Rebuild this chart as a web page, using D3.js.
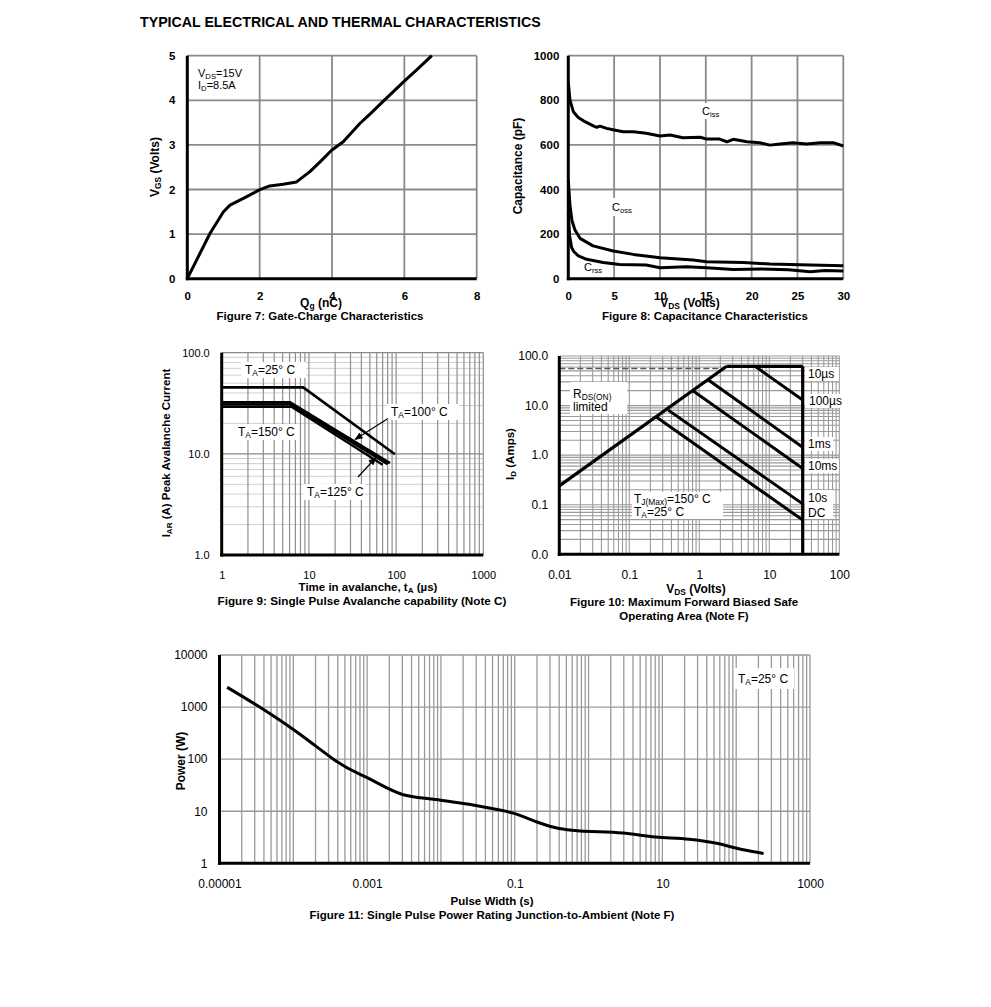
<!DOCTYPE html>
<html><head><meta charset="utf-8">
<script src="https://cdn.jsdelivr.net/npm/d3@7"></script>
<style>body{margin:0;background:#fff}svg{display:block}</style>
</head><body><svg id="c" width="991" height="1007"></svg>
<script>
// ---------------- DATA ----------------
const pageTitle = "TYPICAL ELECTRICAL AND THERMAL CHARACTERISTICS";

// Figure 7: Gate charge
const fig7Qg  = [0,0.63,1.0,1.18,1.55,1.99,2.28,2.65,3.02,3.39,3.67,3.99,4.31,4.77,5.05,5.42,6.0,6.34,6.76];
const fig7Vgs = [0,1.02,1.5,1.65,1.8,1.99,2.08,2.12,2.17,2.4,2.62,2.88,3.07,3.48,3.69,3.98,4.43,4.68,5.0];
const fig7XTicks = [0,2,4,6,8];
const fig7YTicks = [0,1,2,3,4,5];

// Figure 8: Capacitance
const cissV = [0,0.18,0.55,1.09,1.82,2.73,3.1,3.45,4.18,5,6,7.1,8.5,10,11.1,12.5,14.4,15.1,16.5,17.3,18,19.5,20.9,22,23.1,24.5,26,27.5,28.9,30];
const cissC = [883,801,749,723,704,685,679,684,674,667,659,659,652,640,644,632,634,626,626,614,625,614,610,599,604,610,604,610,610,595];
const cossV = [0,0.18,0.4,0.73,1.28,2.7,4.9,7.1,10,13.6,15.1,19.1,22,25.3,30];
const cossC = [442,330,260,218,181,147,124,109,94,84,76,73,66,62,58];
const crssV = [0,0.15,0.36,0.6,1.1,2,3.8,5.6,8.5,10,12.9,15.1,18,21,24,26.4,28,30];
const crssC = [293,190,140,122,102,87,73,64,61,49,54,49,41,44,40,31,37,34];
const fig8XTicks = [0,5,10,15,20,25,30];
const fig8YTicks = [0,200,400,600,800,1000];

// Figure 9: Avalanche
const ta25T  = [1,8.6,97],  ta25I  = [45.4,45.4,9.9];
const ta100T = [1,6.1,85],  ta100I = [32.3,32.3,8.1];
const ta125T = [1,6.1,80],  ta125I = [30.8,30.8,7.9];
const ta150T = [1,6.3,70],  ta150I = [29.2,29.2,7.8];
const fig9XTicks = [1,10,100,1000];
const fig9YTicks = [1,10,100];

// Figure 10: SOA
const rdsV = [0.01,2.46], rdsI = [0.24,62];
const topV = [2.46,30],  topI = [62,62];
const vmaxV = [30,30],   vmaxI = [62,0.01];
const dashV = [0.01,2.2], dashI = [56,56];
const soa10usV = [6.25,30],  soa10usI = [62,13];
const soa100usV = [1.35,30], soa100usI = [32.8,1.44];
const soa1msV = [0.81,30],   soa1msI = [20,0.54];
const soa10msV = [0.36,30],  soa10msI = [8.1,0.104];
const soaDCV = [0.246,30],   soaDCI = [5.8,0.049];
const fig10XTicks = [0.01,0.1,1,10,100];
const fig10YTicks = [0.01,0.1,1,10,100];

// Figure 11: Single pulse power
const pwT = [1.27e-5,3.5e-5,1e-4,2e-4,3.5e-4,5e-4,0.001,0.003,0.0085,0.024,0.045,0.1,0.2,0.36,0.6,2.9,8.1,23,52,120,235];
const pwP = [2400,1000,370,180,100,72,44,21,16.8,13.6,11.5,9.0,6.2,4.8,4.3,3.8,3.2,2.9,2.45,1.84,1.54];
const fig11XTicks = [0.00001,0.001,0.1,10,1000];
const fig11YTicks = [1,10,100,1000,10000];

// ---------------- DRAWING ----------------
const FONT = '"Liberation Sans", Arial, Helvetica, sans-serif';
const svg = d3.select('#c');

function rich(parent, x, y, parts, o = {}) {
  const size = o.size || 11;
  const t = parent.append('text').attr('x', x).attr('y', y)
    .attr('font-family', FONT).attr('font-size', size)
    .attr('font-weight', o.bold ? 'bold' : null)
    .attr('text-anchor', o.anchor || 'start').attr('fill', '#000');
  if (o.rotate) t.attr('transform', `rotate(-90,${x},${y})`);
  let off = 0;
  parts.forEach(p => {
    const isSub = Array.isArray(p);
    const txt = isSub ? p[0] : p;
    const target = isSub ? size * 0.2 : 0;
    t.append('tspan').attr('dy', target - off).attr('font-size', isSub ? size * 0.7 : size).text(txt);
    off = target;
  });
  return t;
}
function box(g, x0, y0, x1, y1) {
  g.append('rect').attr('x', x0).attr('y', y0).attr('width', x1 - x0).attr('height', y1 - y0).attr('fill', '#fff');
}
function logGrid(lo, hi) {
  const out = [];
  const e0 = Math.round(Math.log10(lo)), e1 = Math.round(Math.log10(hi));
  for (let e = e0; e < e1; e++) for (let m = 1; m < 10; m++) out.push(m * Math.pow(10, e));
  out.push(hi);
  return out;
}

function panel(c) {
  const g = svg.append('g');
  const x = (c.xlog ? d3.scaleLog() : d3.scaleLinear()).domain(c.xd).range([c.L, c.R]);
  const y = (c.ylog ? d3.scaleLog() : d3.scaleLinear()).domain(c.yd).range([c.B, c.T]);
  const grid = g.append('g');
  c.hgrid.forEach(gr => gr.vals.forEach(v => grid.append('line')
      .attr('x1', c.L).attr('x2', c.R).attr('y1', y(v)).attr('y2', y(v))
      .attr('stroke', gr.col).attr('stroke-width', gr.w)));
  c.vgrid.forEach(gr => gr.vals.forEach(v => grid.append('line')
      .attr('x1', x(v)).attr('x2', x(v)).attr('y1', c.B).attr('y2', c.T)
      .attr('stroke', gr.col).attr('stroke-width', gr.w)));
  const p = { g, x, y, c };
  p.line = (xs, ys, w) => g.append('path').datum(d3.zip(xs, ys))
      .attr('d', d3.line().x(d => x(d[0])).y(d => y(d[1])).curve(c.curve || d3.curveLinear))
      .attr('fill', 'none').attr('stroke', '#000').attr('stroke-width', w)
      .attr('stroke-linejoin', 'round').attr('stroke-linecap', 'butt');
  p.axes = () => {
    const ax = g.append('g').attr('transform', `translate(0,${c.B})`)
      .call(d3.axisBottom(x).tickValues(c.xt).tickFormat(c.xf).tickSize(0).tickPadding(c.xpad));
    ax.select('.domain').remove();
    ax.attr('font-family', FONT).attr('font-size', c.fs).attr('font-weight', c.fw || null);
    const ay = g.append('g').attr('transform', `translate(${c.L},0)`)
      .call(d3.axisLeft(y).tickValues(c.yt).tickFormat(c.yf).tickSize(0).tickPadding(c.ypad));
    ay.select('.domain').remove();
    ay.attr('font-family', FONT).attr('font-size', c.fs).attr('font-weight', c.fw || null);
    g.append('line').attr('x1', c.L).attr('x2', c.L).attr('y1', c.T).attr('y2', c.B + 1.5).attr('stroke', '#000').attr('stroke-width', 3);
    g.append('line').attr('x1', c.L - 1.5).attr('x2', c.R).attr('y1', c.B).attr('y2', c.B).attr('stroke', '#000').attr('stroke-width', 3);
  };
  return p;
}

// Title
svg.append('text').attr('x', 140).attr('y', 27).attr('font-family', FONT).attr('font-size', 14.2)
  .attr('font-weight', 'bold').text(pageTitle);

// ===== Figure 7 =====
{
  const c = { L: 187.3, R: 476.7, T: 55.7, B: 278.7, xd: [0, 8], yd: [0, 5],
    hgrid: [{ vals: fig7YTicks.slice(1), col: '#8a8a8a', w: 1.8 }],
    vgrid: [{ vals: fig7XTicks.slice(1), col: '#8a8a8a', w: 1.8 }],
    xt: fig7XTicks, yt: fig7YTicks, xf: d3.format('d'), yf: d3.format('d'),
    xpad: 13, ypad: 12, fs: 11.5, fw: 'bold' };
  const p = panel(c);
  p.line(fig7Qg, fig7Vgs, 3);
  rich(p.g, 198, 77, ['V', ['DS'], '=15V'], { size: 11 });
  rich(p.g, 198, 89, ['I', ['D'], '=8.5A'], { size: 11 });
  p.axes();
  rich(p.g, 321, 307, ['Q', ['g'], ' (nC)'], { size: 12, bold: true, anchor: 'middle' });
  rich(p.g, 320, 320, ['Figure 7: Gate-Charge Characteristics'], { size: 11.5, bold: true, anchor: 'middle' });
  rich(p.g, 159, 167, ['V', ['GS'], ' (Volts)'], { size: 12, bold: true, anchor: 'middle', rotate: true });
}

// ===== Figure 8 =====
{
  const c = { L: 568.3, R: 843.3, T: 55.7, B: 278.7, xd: [0, 30], yd: [0, 1000],
    hgrid: [{ vals: fig8YTicks.slice(1), col: '#8a8a8a', w: 1.8 }],
    vgrid: [{ vals: fig8XTicks.slice(1), col: '#8a8a8a', w: 1.8 }],
    xt: fig8XTicks, yt: fig8YTicks, xf: d3.format('d'), yf: d3.format('d'),
    xpad: 13, ypad: 9, fs: 11.5, fw: 'bold' };
  const p = panel(c);
  box(p.g, 700, 103, 724, 119);
  box(p.g, 609, 198, 639, 216);
  p.line(cissV, cissC, 3);
  p.line(cossV, cossC, 3);
  p.line(crssV, crssC, 3);
  rich(p.g, 702, 115, ['C', ['iss']], { size: 11 });
  rich(p.g, 612, 211, ['C', ['oss']], { size: 11 });
  rich(p.g, 584, 271, ['C', ['rss']], { size: 11 });
  p.axes();
  rich(p.g, 690, 307, ['V', ['DS'], ' (Volts)'], { size: 12, bold: true, anchor: 'middle' });
  rich(p.g, 705, 320, ['Figure 8: Capacitance Characteristics'], { size: 11.5, bold: true, anchor: 'middle' });
  rich(p.g, 522, 166, ['Capacitance (pF)'], { size: 12, bold: true, anchor: 'middle', rotate: true });
}

// ===== Figure 9 =====
{
  const c = { L: 221.7, R: 483.3, T: 352.7, B: 555, xd: [1, 1000], yd: [1, 100], xlog: true, ylog: true,
    hgrid: [{ vals: logGrid(1, 100).filter(v => ![1, 10, 100].includes(v)), col: '#cfcfcf', w: 1 },
            { vals: [10, 100], col: '#8a8a8a', w: 1.2 }],
    vgrid: [{ vals: logGrid(1, 1000).slice(1), col: '#8f8f8f', w: 1.2 }],
    xt: fig9XTicks, yt: fig9YTicks, xf: d => String(d), yf: d3.format('.1f'),
    xpad: 16, ypad: 12, fs: 11 };
  const p = panel(c);
  box(p.g, 241, 362, 306, 378);
  box(p.g, 387, 404, 459, 420);
  box(p.g, 234, 424, 298, 440);
  box(p.g, 303, 484, 365, 500);
  p.line(ta25T, ta25I, 2.6);
  p.line(ta150T, ta150I, 2.2);
  p.line(ta125T, ta125I, 2.6);
  p.line(ta100T, ta100I, 2.6);
  const lbl = (x, y, t) => rich(p.g, x, y, ['T', ['A'], t], { size: 12 });
  lbl(245, 374, '=25°  C');
  lbl(391, 416, '=100°  C');
  lbl(238, 436, '=150°  C');
  lbl(307, 496, '=125°  C');
  const defs = svg.append('defs');
  defs.append('marker').attr('id', 'ah').attr('viewBox', '0 0 10 10').attr('refX', 9).attr('refY', 5)
    .attr('markerWidth', 7).attr('markerHeight', 7).attr('orient', 'auto-start-reverse')
    .append('path').attr('d', 'M0,1 L10,5 L0,9 Z').attr('fill', '#000');
  p.g.append('line').attr('x1', 388).attr('y1', 418.5).attr('x2', 355).attr('y2', 439.5)
    .attr('stroke', '#000').attr('stroke-width', 1.2).attr('marker-end', 'url(#ah)');
  p.g.append('line').attr('x1', 358).attr('y1', 477).attr('x2', 376).attr('y2', 457.5)
    .attr('stroke', '#000').attr('stroke-width', 1.2).attr('marker-end', 'url(#ah)');
  p.axes();
  rich(p.g, 368, 591, ['Time in avalanche, t', ['A'], ' (µs)'], { size: 11.5, bold: true, anchor: 'middle' });
  rich(p.g, 362, 605, ['Figure 9: Single Pulse Avalanche capability (Note C)'], { size: 11.7, bold: true, anchor: 'middle' });
  rich(p.g, 170, 453, ['I', ['AR'], ' (A) Peak Avalanche Current'], { size: 11.5, bold: true, anchor: 'middle', rotate: true });
}

// ===== Figure 10 =====
{
  const c = { L: 559.3, R: 839.3, T: 356, B: 554.3, xd: [0.01, 100], yd: [0.01, 100], xlog: true, ylog: true,
    hgrid: [{ vals: logGrid(0.01, 100).slice(1), col: '#9a9a9a', w: 1.1 }],
    vgrid: [{ vals: logGrid(0.01, 100).slice(1), col: '#9a9a9a', w: 1.1 }],
    xt: fig10XTicks, yt: fig10YTicks, xf: d => String(d), yf: d3.format('.1f'),
    xpad: 16, ypad: 11, fs: 12 };
  const p = panel(c);
  box(p.g, 570, 382, 627, 414);
  box(p.g, 632, 492, 723, 519);
  box(p.g, 805, 367, 839, 381);
  box(p.g, 805, 394, 841, 408);
  box(p.g, 805, 437, 833, 451);
  box(p.g, 805, 459, 839, 473);
  box(p.g, 805, 490, 833, 519);
  p.line(dashV, dashI, 1.3).attr('stroke', '#555').attr('stroke-dasharray', '6,3');
  p.line(rdsV, rdsI, 3.2);
  p.line(topV, topI, 3.2);
  p.line(soa10usV, soa10usI, 3);
  p.line(soa100usV, soa100usI, 3);
  p.line(soa1msV, soa1msI, 3);
  p.line(soa10msV, soa10msI, 3);
  p.line(soaDCV, soaDCI, 3);
  p.line(vmaxV, vmaxI, 3.2);
  rich(p.g, 573, 398, ['R', ['DS(ON)']], { size: 12 });
  rich(p.g, 573, 411, ['limited'], { size: 12 });
  rich(p.g, 634, 503, ['T', ['J(Max)'], '=150°  C'], { size: 12 });
  rich(p.g, 634, 516, ['T', ['A'], '=25°  C'], { size: 12 });
  rich(p.g, 808, 378, ['10µs'], { size: 12 });
  rich(p.g, 809, 405, ['100µs'], { size: 12 });
  rich(p.g, 808, 448, ['1ms'], { size: 12 });
  rich(p.g, 808, 470, ['10ms'], { size: 12 });
  rich(p.g, 808, 502, ['10s'], { size: 12 });
  rich(p.g, 808, 517, ['DC'], { size: 12 });
  p.axes();
  rich(p.g, 696, 593, ['V', ['DS'], ' (Volts)'], { size: 12, bold: true, anchor: 'middle' });
  rich(p.g, 684, 606, ['Figure 10: Maximum Forward Biased Safe'], { size: 11.5, bold: true, anchor: 'middle' });
  rich(p.g, 684, 620, ['Operating Area (Note F)'], { size: 11.5, bold: true, anchor: 'middle' });
  rich(p.g, 514, 454, ['I', ['D'], ' (Amps)'], { size: 11.5, bold: true, anchor: 'middle', rotate: true });
}

// ===== Figure 11 =====
{
  const c = { L: 219.5, R: 810, T: 655, B: 863.3, xd: [1e-5, 1000], yd: [1, 10000], xlog: true, ylog: true,
    hgrid: [{ vals: fig11YTicks.slice(1), col: '#9a9a9a', w: 1.4 }],
    vgrid: [{ vals: logGrid(1e-5, 1000).slice(1), col: '#9a9a9a', w: 1.3 }],
    xt: fig11XTicks, yt: fig11YTicks, xf: d => String(d), yf: d => String(d),
    xpad: 16, ypad: 12, fs: 12, curve: d3.curveMonotoneX };
  const p = panel(c);
  box(p.g, 735, 668, 794, 689);
  p.line(pwT, pwP, 3);
  rich(p.g, 738, 683, ['T', ['A'], '=25°  C'], { size: 12 });
  p.axes();
  rich(p.g, 492, 905, ['Pulse Width (s)'], { size: 11.5, bold: true, anchor: 'middle' });
  rich(p.g, 492, 919, ['Figure 11: Single Pulse Power Rating Junction-to-Ambient (Note F)'], { size: 11.5, bold: true, anchor: 'middle' });
  rich(p.g, 185, 761, ['Power (W)'], { size: 12, bold: true, anchor: 'middle', rotate: true });
}
</script></body></html>
